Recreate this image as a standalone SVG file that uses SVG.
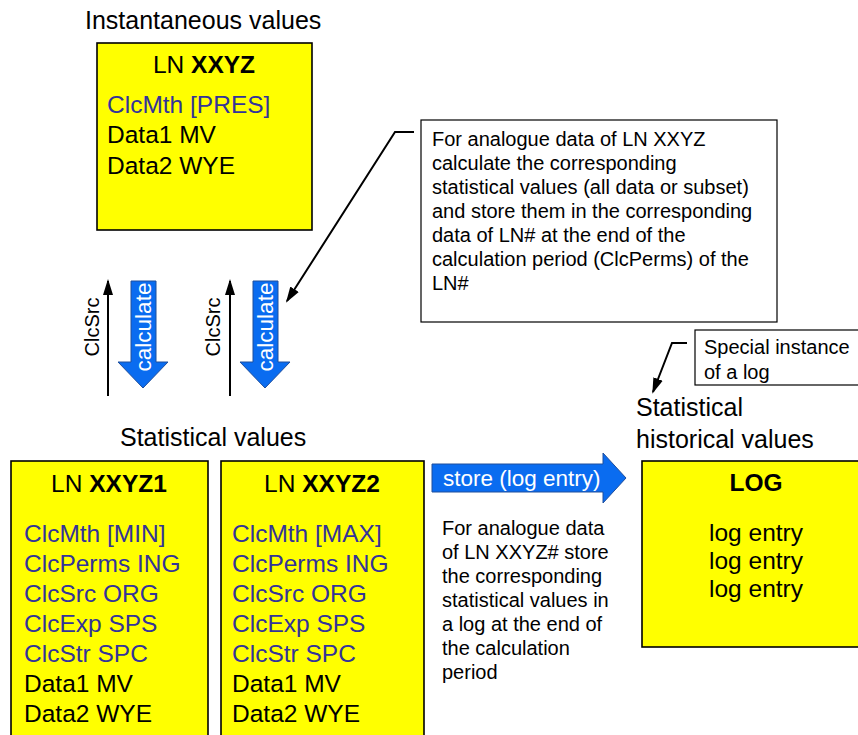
<svg xmlns="http://www.w3.org/2000/svg" width="858" height="735" viewBox="0 0 858 735">
<style>
text{font-family:"Liberation Sans",Arial,sans-serif;fill:#000}
.h{font-size:25px}
.t{font-size:24.5px}
.s{font-size:20px}
.b{font-weight:bold}
.blue{fill:#333399}
.box{fill:#ffff00;stroke:#000;stroke-width:1.6}
.note{fill:#fff;stroke:#000;stroke-width:1.2}
.barrow{fill:#0a6cf0;stroke:#1f4e9c;stroke-width:1}
.wt{fill:#fff;font-size:22.5px}
.ln{fill:none;stroke:#000;stroke-width:2}
</style>
<defs>
<marker id="ah" markerUnits="userSpaceOnUse" markerWidth="16" markerHeight="12" refX="14" refY="5" orient="auto" viewBox="0 0 16 10">
<path d="M0,0 L16,5 L0,10 Z" fill="#000"/>
</marker>
</defs>

<text class="h" x="85" y="29">Instantaneous values</text>
<text class="h" x="120" y="446">Statistical values</text>
<text class="h" x="636" y="416">Statistical</text>
<text class="h" x="636" y="448">historical values</text>

<g id="ln-xxyz">
<rect class="box" x="97" y="43" width="215" height="187"/>
<text class="t" x="204" y="73" text-anchor="middle">LN <tspan class="b">XXYZ</tspan></text>
<text class="t blue" x="107" y="113">ClcMth [PRES]</text>
<text class="t" x="107" y="143">Data1 MV</text>
<text class="t" x="107" y="174">Data2 WYE</text>
</g>

<g id="callout-calc">
<rect class="note" x="421" y="120" width="356" height="202"/>
<text class="s" x="432">
<tspan x="432" y="146">For analogue data of LN XXYZ</tspan>
<tspan x="432" y="170">calculate the corresponding</tspan>
<tspan x="432" y="194">statistical values (all data or subset)</tspan>
<tspan x="432" y="218">and store them in the corresponding</tspan>
<tspan x="432" y="242">data of LN# at the end of the</tspan>
<tspan x="432" y="266">calculation period (ClcPerms) of the</tspan>
<tspan x="432" y="290">LN#</tspan>
</text>
</g>

<g id="callout-log">
<rect class="note" x="695" y="330" width="175" height="55"/>
<text class="s" x="704" y="354">Special instance</text>
<text class="s" x="704" y="379">of a log</text>
</g>

<g id="calc1">
<polygon class="barrow" points="131,281 156,281 156,362 168,362 143,388 118,362 131,362"/>
<text class="wt" transform="translate(151,327) rotate(-90)" text-anchor="middle">calculate</text>
</g>
<g id="calc2">
<polygon class="barrow" points="253,281 278,281 278,362 290,362 265,388 240,362 253,362"/>
<text class="wt" transform="translate(273,327) rotate(-90)" text-anchor="middle">calculate</text>
</g>

<g id="store">
<polygon class="barrow" points="432,464 603,464 603,453 626,478 603,503 603,492 432,492"/>
<text class="wt" x="443" y="486">store (log entry)</text>
</g>

<g id="store-note">
<text class="s">
<tspan x="442" y="535">For analogue data</tspan>
<tspan x="442" y="559">of LN XXYZ# store</tspan>
<tspan x="442" y="583">the corresponding</tspan>
<tspan x="442" y="607">statistical values in</tspan>
<tspan x="442" y="631">a log at the end of</tspan>
<tspan x="442" y="655">the calculation</tspan>
<tspan x="442" y="679">period</tspan>
</text>
</g>

<g id="ln-xxyz1">
<rect class="box" x="11" y="461" width="197" height="290"/>
<text class="t" x="109" y="492" text-anchor="middle">LN <tspan class="b">XXYZ1</tspan></text>
<text class="t blue" x="24" y="542">ClcMth [MIN]</text>
<text class="t blue" x="24" y="572">ClcPerms ING</text>
<text class="t blue" x="24" y="602">ClcSrc ORG</text>
<text class="t blue" x="24" y="632">ClcExp SPS</text>
<text class="t blue" x="24" y="662">ClcStr SPC</text>
<text class="t" x="24" y="692">Data1 MV</text>
<text class="t" x="24" y="722">Data2 WYE</text>
</g>

<g id="ln-xxyz2">
<rect class="box" x="221" y="461" width="203" height="290"/>
<text class="t" x="322" y="492" text-anchor="middle">LN <tspan class="b">XXYZ2</tspan></text>
<text class="t blue" x="232" y="542">ClcMth [MAX]</text>
<text class="t blue" x="232" y="572">ClcPerms ING</text>
<text class="t blue" x="232" y="602">ClcSrc ORG</text>
<text class="t blue" x="232" y="632">ClcExp SPS</text>
<text class="t blue" x="232" y="662">ClcStr SPC</text>
<text class="t" x="232" y="692">Data1 MV</text>
<text class="t" x="232" y="722">Data2 WYE</text>
</g>

<g id="log">
<rect class="box" x="642" y="461" width="230" height="186"/>
<text class="t b" x="756" y="491" text-anchor="middle">LOG</text>
<text class="t" x="756" y="541" text-anchor="middle">log entry</text>
<text class="t" x="756" y="569" text-anchor="middle">log entry</text>
<text class="t" x="756" y="597" text-anchor="middle">log entry</text>
</g>

<g id="connectors">
<line class="ln" x1="108" y1="396" x2="108" y2="281" marker-end="url(#ah)"/>
<text class="s" transform="translate(99,327) rotate(-90)" text-anchor="middle">ClcSrc</text>
<line class="ln" x1="230" y1="396" x2="230" y2="281" marker-end="url(#ah)"/>
<text class="s" transform="translate(220,327) rotate(-90)" text-anchor="middle">ClcSrc</text>
<polyline class="ln" points="414,132 395,132 287,301" marker-end="url(#ah)"/>
<polyline class="ln" points="687,343 672,343 653,392" marker-end="url(#ah)"/>
</g>
</svg>
